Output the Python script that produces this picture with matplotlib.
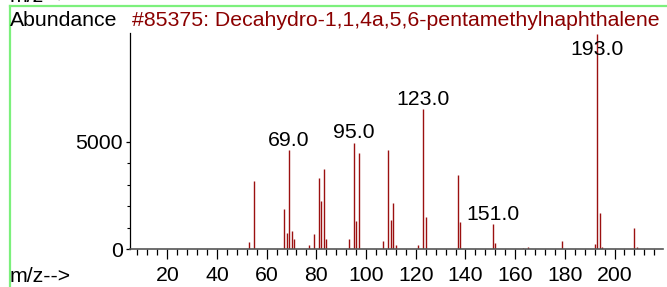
import matplotlib
matplotlib.use("Agg")
import matplotlib.pyplot as plt
from matplotlib.ticker import MultipleLocator, FixedLocator
from matplotlib.lines import Line2D

# ---- data ----
mz = [53, 55, 67, 68, 69, 70, 71, 77, 79, 81, 82, 83, 84, 93, 95, 96, 97,
      107, 109, 110, 111, 112, 121, 123, 124, 137, 138, 151, 152, 163, 165,
      179, 192, 193, 194, 195, 208, 209]
abundance = [350, 3190, 1860, 770, 4610, 850, 480, 215, 725, 3300, 2245, 3717, 495,
             465, 4960, 1315, 4470, 385, 4610, 1360, 2140, 185, 215, 6505, 1485,
             3450, 1285, 1175, 290, 60, 90, 400, 245, 10000, 1670, 90, 990, 120]
labelled_mz = [69, 95, 123, 151, 193]
x_major = [20, 40, 60, 80, 100, 120, 140, 160, 180, 200]
y_major = [0, 5000]
title = "#85375: Decahydro-1,1,4a,5,6-pentamethylnaphthalene"

W, H = 667, 287
DPI = 100
plt.rcParams['font.family'] = ['Liberation Sans', 'DejaVu Sans']
FS = 15.3

fig = plt.figure(figsize=(W / DPI, H / DPI), dpi=DPI)
fig.patch.set_facecolor('white')

# axes placement (pixels)
ax_left, ax_right, ax_bottom, ax_top = 130, 663, 249.3, 33
ax = fig.add_axes([ax_left / W, (H - ax_bottom) / H,
                   (ax_right - ax_left) / W, (ax_bottom - ax_top) / H])
ax.set_xlim(5, 219.5)
ax.set_ylim(0, 10050)

bar_color = '#9B1010'
ax.vlines(mz, 0, abundance, colors=bar_color, linewidth=1.0)

# peak labels
cap = 8820
for m, a in zip(mz, abundance):
    if m in labelled_mz:
        ax.annotate(f"{m:.1f}", xy=(m, min(a, cap)), xytext=(0, 3.2),
                    textcoords='offset points', ha='center', va='baseline',
                    fontsize=FS, color='black')

for s in ['top', 'right']:
    ax.spines[s].set_visible(False)
ax.spines['left'].set_color('black')
ax.spines['bottom'].set_color('#555555')
ax.spines['left'].set_linewidth(0.9)
ax.spines['bottom'].set_linewidth(1.2)

ax.xaxis.set_major_locator(FixedLocator(x_major))
ax.xaxis.set_minor_locator(MultipleLocator(4))
ax.yaxis.set_major_locator(FixedLocator(y_major))
ax.yaxis.set_minor_locator(FixedLocator([1000, 2000, 3000, 4000]))
ax.set_xticklabels([str(v) for v in x_major])
ax.set_yticklabels([str(v) for v in y_major])
ax.tick_params(axis='x', which='major', length=7.2, width=0.9, pad=5,
               labelsize=FS, direction='out', color='black')
ax.tick_params(axis='x', which='minor', length=4.0, width=0.9,
               direction='out', color='black')
ax.tick_params(axis='y', which='major', length=3, width=0.9, pad=2,
               labelsize=FS, direction='out')
ax.tick_params(axis='y', which='minor', length=2.5, width=0.8, direction='out')

# texts
fig.text(10 / W, (H - 26.5) / H, "Abundance", fontsize=FS, ha='left', va='baseline')
fig.text(131.5 / W, (H - 26.5) / H, title, fontsize=FS, ha='left', va='baseline',
         color='#8B0000')
fig.text(10 / W, (H - 282.5) / H, "m/z-->", fontsize=FS, ha='left', va='baseline')
fig.text(10 / W, (H - 2.5) / H, "m/z-->", fontsize=FS, ha='left', va='baseline')

# green frame lines
green = '#7CF07C'
fig.add_artist(Line2D([9.5 / W, 1.0], [(H - 6) / H, (H - 6) / H],
                      transform=fig.transFigure, color=green, linewidth=1.6))
fig.add_artist(Line2D([9.5 / W, 9.5 / W], [0, (H - 6) / H],
                      transform=fig.transFigure, color=green, linewidth=1.6))

fig.savefig("out.png", dpi=DPI)
